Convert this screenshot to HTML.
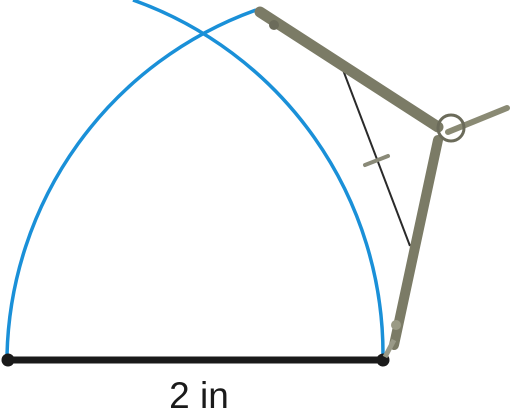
<!DOCTYPE html>
<html><head><meta charset="utf-8"><style>
html,body{margin:0;padding:0;background:#fff;width:512px;height:411px;overflow:hidden}
svg{display:block}
</style></head><body>
<svg width="512" height="411" viewBox="0 0 512 411">
  <path d="M 7 355 A 376 376 0 0 1 256 10" fill="none" stroke="#1a90d8" stroke-width="3.5"/>
  <path d="M 383 355 A 376 376 0 0 0 133 0" fill="none" stroke="#1a90d8" stroke-width="3.5"/>
  <line x1="7" y1="360" x2="383" y2="360" stroke="#1a1a1a" stroke-width="7"/>
  <circle cx="8" cy="360" r="6.5" fill="#1a1a1a"/>
  <circle cx="383" cy="360" r="6.5" fill="#1a1a1a"/>
  <g>
    <line x1="340" y1="62" x2="410" y2="246" stroke="#2a2a2a" stroke-width="2"/>
    <line x1="365" y1="165" x2="388" y2="156" stroke="#8a8a78" stroke-width="4" stroke-linecap="round"/>
    <line x1="260" y1="12" x2="438" y2="127" stroke="#7b7b66" stroke-width="11" stroke-linecap="round"/>
    <line x1="438" y1="140" x2="394" y2="345" stroke="#7b7b66" stroke-width="10" stroke-linecap="round"/>
    <line x1="394" y1="340" x2="385" y2="357" stroke="#9a9a88" stroke-width="5"/>
    <line x1="448" y1="132" x2="507" y2="108" stroke="#8a8a74" stroke-width="6" stroke-linecap="round"/>
    <circle cx="451" cy="128" r="13" fill="none" stroke="#6b6b5a" stroke-width="3"/>
    <circle cx="274" cy="25" r="5" fill="#6b6b5a"/>
    <circle cx="396" cy="325" r="5" fill="#9a9a85"/>
  </g>
  <text x="199" y="408" text-anchor="middle" font-family="Liberation Sans, sans-serif" font-size="37" fill="#1a1a1a">2 in</text>
</svg>
</body></html>
